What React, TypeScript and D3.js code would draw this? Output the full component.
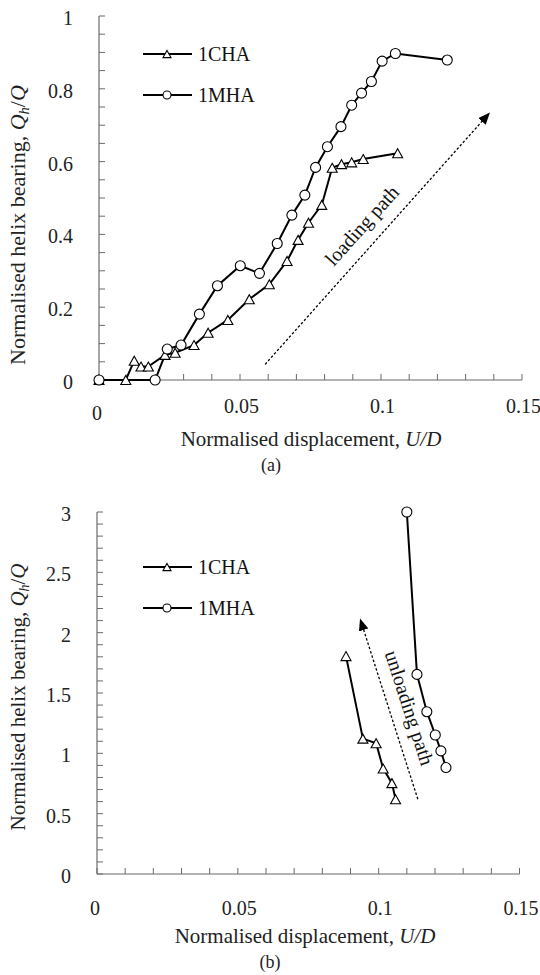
import React from "react";
import * as d3 from "d3";

// ---------- data ----------
const seriesNames = ["1CHA", "1MHA"];

// (a) loading
const chaLoadX = [0, 0.0095, 0.0125, 0.0149, 0.0175, 0.0234, 0.027, 0.0337, 0.0387, 0.0457, 0.0533, 0.0604, 0.0667, 0.0706, 0.0743, 0.079, 0.0827, 0.086, 0.0896, 0.0937, 0.1059];
const chaLoadY = [0, 0, 0.053, 0.037, 0.037, 0.069, 0.075, 0.096, 0.13, 0.165, 0.222, 0.263, 0.327, 0.385, 0.432, 0.481, 0.583, 0.593, 0.598, 0.607, 0.623];
const mhaLoadX = [0, 0.0199, 0.0242, 0.0291, 0.0356, 0.042, 0.0501, 0.0569, 0.0632, 0.0684, 0.073, 0.0768, 0.081, 0.0858, 0.0896, 0.0931, 0.0966, 0.1004, 0.1051, 0.1235];
const mhaLoadY = [0, 0, 0.085, 0.096, 0.181, 0.259, 0.314, 0.293, 0.375, 0.453, 0.508, 0.584, 0.641, 0.696, 0.755, 0.788, 0.82, 0.876, 0.897, 0.879];

// (b) unloading
const chaUnloadX = [0.0884, 0.0944, 0.0991, 0.1016, 0.1047, 0.106];
const chaUnloadY = [1.806, 1.122, 1.084, 0.874, 0.753, 0.62];
const mhaUnloadX = [0.11, 0.1136, 0.1171, 0.1201, 0.1221, 0.1239];
const mhaUnloadY = [3.0, 1.654, 1.345, 1.152, 1.02, 0.882];

// ticks
const xTickLabels = ["0", "0.05", "0.1", "0.15"];
const xTickValues = [0, 0.05, 0.1, 0.15];
const yTickLabelsA = ["0", "0.2", "0.4", "0.6", "0.8", "1"];
const yTickValuesA = [0, 0.2, 0.4, 0.6, 0.8, 1];
const yTickLabelsB = ["0", "0.5", "1", "1.5", "2", "2.5", "3"];
const yTickValuesB = [0, 0.5, 1, 1.5, 2, 2.5, 3];

// annotation arrows (data coords)
const loadArrow = [[0.0589, 0.043], [0.1384, 0.733]];
const unloadArrow = [[0.1139, 0.62], [0.0935, 2.109]];

const FONT = "Liberation Serif, DejaVu Serif, Times New Roman, serif";
const AXIS = "#6b6b6b";

function zip(xs: number[], ys: number[]) {
  return xs.map((x, i) => [x, ys[i]] as [number, number]);
}

function Triangle({ x, y, w }: { x: number; y: number; w: number }) {
  const h = w * 0.9;
  const p = `M${x},${y - h / 2}L${x + w / 2},${y + h / 2}L${x - w / 2},${y + h / 2}Z`;
  return <path d={p} fill="#fff" stroke="#000" strokeWidth={1.1} />;
}

function Circle({ x, y, r }: { x: number; y: number; r: number }) {
  return <circle cx={x} cy={y} r={r} fill="#fff" stroke="#000" strokeWidth={1.1} />;
}

type PanelProps = {
  x0: number; x1: number; yBottom: number; yTop: number;
  yMax: number; yMinor: number;
  yTickValues: number[]; yTickLabels: string[];
  xLabelDy: number; zeroDy: number;
  cha: [number, number][]; mha: [number, number][];
  arrow: number[][]; arrowText: string; textPos: [number, number]; textAngle: number;
  legendY: [number, number];
  yTitleCy: number; yTitleSize: number; xTitleCx: number; xTitleY: number;
  tag: string; tagX: number; tagY: number; id: string;
};

function Panel(p: PanelProps) {
  const x = d3.scaleLinear().domain([0, 0.15]).range([p.x0, p.x1]);
  const y = d3.scaleLinear().domain([0, p.yMax]).range([p.yBottom, p.yTop]);
  const line = d3.line<[number, number]>().x(d => x(d[0])).y(d => y(d[1]));
  const xMinor = d3.range(0, 0.15 + 1e-9, 0.01);
  const yMinor = d3.range(0, p.yMax + 1e-9, p.yMinor);
  const [a0, a1] = p.arrow;
  return (
    <g style={{ fontFamily: FONT }}>
      <defs>
        <marker id={`ah-${p.id}`} viewBox="0 0 12 10" refX="11" refY="5" markerWidth="12" markerHeight="10" markerUnits="userSpaceOnUse" orient="auto">
          <path d="M0,0L12,5L0,10Z" fill="#000" />
        </marker>
      </defs>
      {/* axes */}
      <line x1={x(0)} x2={x(0.15)} y1={y(0)} y2={y(0)} stroke={AXIS} strokeWidth={1.2} />
      <line x1={x(0)} x2={x(0)} y1={y(0)} y2={y(p.yMax)} stroke={AXIS} strokeWidth={1.2} />
      {xMinor.map((v, i) => (
        <line key={"xt" + i} x1={x(v)} x2={x(v)} y1={y(0)} y2={y(0) - 6} stroke={AXIS} strokeWidth={1} />
      ))}
      {yMinor.map((v, i) => (
        <line key={"yt" + i} x1={x(0)} x2={x(0) + 6} y1={y(v)} y2={y(v)} stroke={AXIS} strokeWidth={1} />
      ))}
      {xTickValues.map((v, i) => (
        <text key={"xl" + i} x={x(v) + (v === 0 ? -2 : 1.5)} y={y(0) + p.xLabelDy + (v === 0 ? p.zeroDy : 0)} textAnchor="middle" fontSize={20} fill="#222">
          {xTickLabels[i]}
        </text>
      ))}
      {p.yTickValues.map((v, i) => (
        <text key={"yl" + i} x={x(0) - 26} y={y(v) + 9} textAnchor="end" fontSize={20} fill="#222">
          {p.yTickLabels[i]}
        </text>
      ))}
      {/* titles */}
      <text transform={`translate(25,${p.yTitleCy}) rotate(-90)`} textAnchor="middle" fontSize={p.yTitleSize} fill="#222">
        Normalised helix bearing, <tspan fontStyle="italic">Q</tspan>
        <tspan fontStyle="italic" fontSize={p.yTitleSize * 0.66} dy={4}>h</tspan>
        <tspan dy={-4}>/</tspan>
        <tspan fontStyle="italic">Q</tspan>
      </text>
      <text x={p.xTitleCx} y={p.xTitleY} textAnchor="middle" fontSize={21} fill="#222">
        Normalised displacement, <tspan fontStyle="italic">U/D</tspan>
      </text>
      <text x={p.tagX} y={p.tagY} textAnchor="middle" fontSize={18} fill="#222">{p.tag}</text>
      {/* arrow */}
      <line x1={x(a0[0])} y1={y(a0[1])} x2={x(a1[0])} y2={y(a1[1])} stroke="#000" strokeWidth={1.3} strokeDasharray="2.5,2" markerEnd={`url(#ah-${p.id})`} />
      <text transform={`translate(${p.textPos[0]},${p.textPos[1]}) rotate(${p.textAngle})`} textAnchor="middle" fontSize={20} fill="#111">
        {p.arrowText}
      </text>
      {/* series */}
      <path d={line(p.cha) || ""} fill="none" stroke="#000" strokeWidth={2} />
      <path d={line(p.mha) || ""} fill="none" stroke="#000" strokeWidth={2} />
      {p.cha.map((d, i) => <Triangle key={"c" + i} x={x(d[0])} y={y(d[1])} w={10} />)}
      {p.mha.map((d, i) => <Circle key={"m" + i} x={x(d[0])} y={y(d[1])} r={5} />)}
      {/* legend */}
      <line x1={143} x2={192} y1={p.legendY[0]} y2={p.legendY[0]} stroke="#000" strokeWidth={2} />
      <Triangle x={167} y={p.legendY[0]} w={8} />
      <text x={198} y={p.legendY[0] + 7} fontSize={20} fill="#111">{seriesNames[0]}</text>
      <line x1={143} x2={192} y1={p.legendY[1]} y2={p.legendY[1]} stroke="#000" strokeWidth={2} />
      <Circle x={167} y={p.legendY[1]} r={4} />
      <text x={198} y={p.legendY[1] + 7} fontSize={20} fill="#111">{seriesNames[1]}</text>
    </g>
  );
}

export default function App() {
  return (
    <svg width={540} height={975} style={{ position: "absolute", left: 0, top: 0, background: "#fff" }}>
      <rect width={540} height={975} fill="#fff" />
      <Panel
        id="a" x0={99} x1={522} yBottom={380} yTop={16} yMax={1} yMinor={0.05}
        yTickValues={yTickValuesA} yTickLabels={yTickLabelsA}
        xLabelDy={33} zeroDy={7}
        cha={zip(chaLoadX, chaLoadY)} mha={zip(mhaLoadX, mhaLoadY)}
        arrow={loadArrow} arrowText="loading path" textPos={[367, 230]} textAngle={-48}
        legendY={[54, 95]} yTitleCy={225} yTitleSize={22} xTitleCx={311} xTitleY={446}
        tag="(a)" tagX={271} tagY={471}
      />
      <Panel
        id="b" x0={97} x1={519.5} yBottom={874} yTop={512} yMax={3} yMinor={0.1}
        yTickValues={yTickValuesB} yTickLabels={yTickLabelsB}
        xLabelDy={41} zeroDy={0}
        cha={zip(chaUnloadX, chaUnloadY)} mha={zip(mhaUnloadX, mhaUnloadY)}
        arrow={unloadArrow} arrowText="unloading path" textPos={[403, 710]} textAngle={72}
        legendY={[567, 608]} yTitleCy={697} yTitleSize={21} xTitleCx={305} xTitleY={943}
        tag="(b)" tagX={270} tagY={968}
      />
    </svg>
  );
}
